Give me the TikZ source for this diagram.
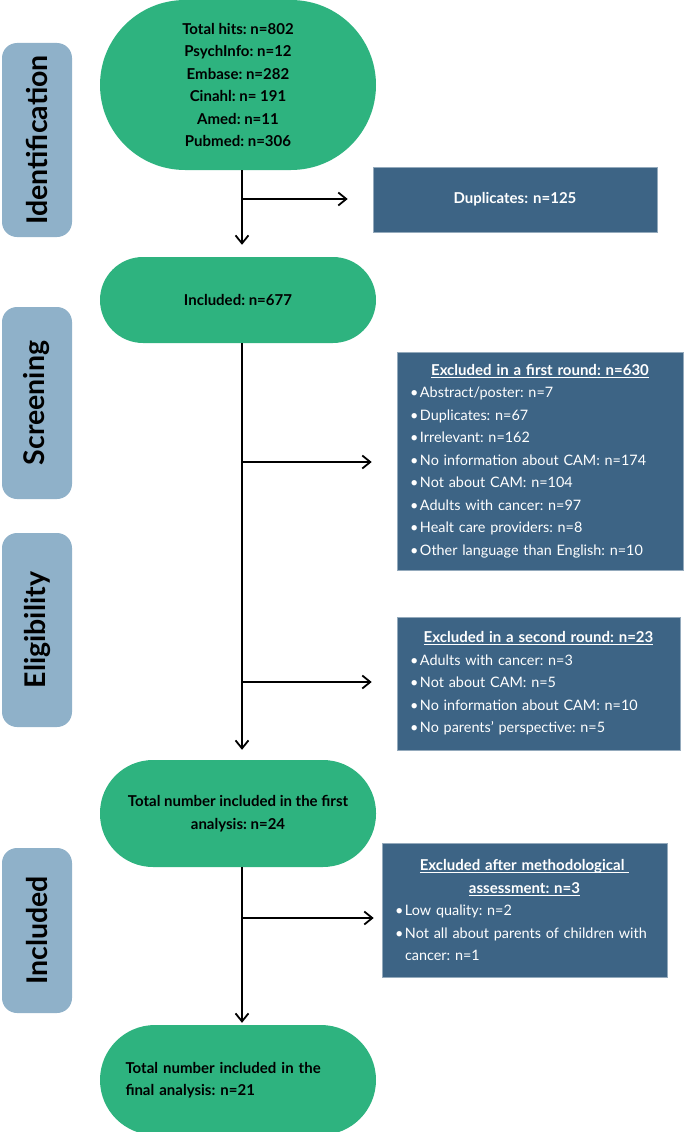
\documentclass[tikz,border=0pt]{standalone}
\usepackage{fontspec}
\setmainfont{Lato}
\usetikzlibrary{arrows.meta,positioning}
\definecolor{mint}{RGB}{46,179,127}
\definecolor{slate}{RGB}{61,100,133}
\definecolor{haze}{RGB}{143,177,201}
\frenchspacing
\newcommand\exitem[1]{\par\hangindent=10pt\hangafter=1\noindent\makebox[10pt][l]{•}#1}
\newcommand\ulbar[1]{\leavevmode\setbox0\hbox{#1}\rlap{\rule[-2.4pt]{\wd0}{0.8pt}}\box0}
\tikzset{
  >={Straight Barb[length=8pt,width=13pt]},
  stage/.style={fill=haze,rounded corners=15pt,rotate=90,minimum height=70pt,
    minimum width=#1,font=\fontsize{28.5}{30}\selectfont\bfseries,inner sep=0pt},
  pill/.style={fill=mint,rounded corners=#1,align=center,minimum width=276pt,
    font=\fontsize{15}{22.5}\selectfont\bfseries,inner sep=0pt},
  exbox/.style={fill=slate,draw=slate!55!white,line width=0.6pt,text=white,
    align=left,text width=#1,inner xsep=13pt,inner ysep=0pt,
    font=\fontsize{14.4}{22.5}\selectfont},
  head/.style={font=\fontsize{15}{22.5}\selectfont\bfseries},
  flow/.style={->,line width=1.8pt,draw=black},
}
\begin{document}
\begin{tikzpicture}[x=1pt,y=-1pt]
  \useasboundingbox (0,0) rectangle (685,1132);
  % stage labels
  \node[stage=194pt] (sid) at (37,140) {Identification};
  \node[stage=192pt] (ssc) at (37,403) {Screening};
  \node[stage=194pt] (sel) at (37,630) {Eligibility};
  \node[stage=165pt] (sin) at (37,930.5) {Included};
  % main path
  \node[pill=85pt,minimum height=170pt] (hits) at (238,85)
    {Total hits: n=802\\PsychInfo: n=12\\Embase: n=282\\Cinahl: n= 191\\Amed: n=11\\Pubmed: n=306};
  \node[pill=43pt,minimum height=86pt] (inc) at (238,300) {Included: n=677};
  \node[pill=53pt,minimum height=107pt] (first) at (238,813.5)
    {Total number included in the first\\analysis: n=24};
  \node[pill=55pt,minimum height=110pt,align=left,text width=225pt] (final) at (238,1080)
    {Total number included in the\\final analysis: n=21};
  % exclusions
  \node[exbox=258pt,head,minimum height=65pt,align=center] (dup) at (515,199.5)
    {Duplicates: n=125};
  \node[exbox=260pt,minimum height=218pt] (ex1) at (540,461) {%
    {\centering\fontsize{15}{22.5}\selectfont\bfseries\ulbar{Excluded in a first round: n=630}\par}
    \exitem{Abstract/poster: n=7}
    \exitem{Duplicates: n=67}
    \exitem{Irrelevant: n=162}
    \exitem{No information about CAM: n=174}
    \exitem{Not about CAM: n=104}
    \exitem{Adults with cancer: n=97}
    \exitem{Healt care providers: n=8}
    \exitem{Other language than English: n=10}\par};
  \node[exbox=257pt,minimum height=133pt] (ex2) at (538.5,683.5) {%
    {\centering\fontsize{15}{22.5}\selectfont\bfseries\ulbar{Excluded in a second round: n=23}\par}
    \exitem{Adults with cancer: n=3}
    \exitem{Not about CAM: n=5}
    \exitem{No information about CAM: n=10}
    \exitem{No parents' perspective: n=5}\par};
  \node[exbox=259pt,minimum height=134pt] (ex3) at (524.5,910) {%
    {\centering\fontsize{15}{22.5}\selectfont\bfseries\ulbar{Excluded after methodological\ }\par
     \ulbar{assessment: n=3}\par}
    \exitem{Low quality: n=2}
    \exitem{Not all about parents of children with\hfil\break cancer: n=1}\par};
  % connectors
  \coordinate (spine) at (242,0);
  \coordinate (j1) at (242,199);
  \coordinate (j2) at (242,462);
  \coordinate (j3) at (242,682);
  \coordinate (j4) at (242,918);
  \draw[flow,shorten >=12pt] (hits.south -| spine) -- (inc.north -| spine);
  \draw[flow,shorten >=10pt] (inc.south -| spine) -- (first.north -| spine);
  \draw[flow,shorten >=2pt] (first.south -| spine) -- (final.north -| spine);
  \draw[flow,shorten >=25pt] (j1) -- (j1 -| dup.west);
  \draw[flow,shorten >=25pt] (j2) -- (j2 -| ex1.west);
  \draw[flow,shorten >=25pt] (j3) -- (j3 -| ex2.west);
  \draw[flow,shorten >=8pt] (j4) -- (j4 -| ex3.west);
\end{tikzpicture}
\end{document}
